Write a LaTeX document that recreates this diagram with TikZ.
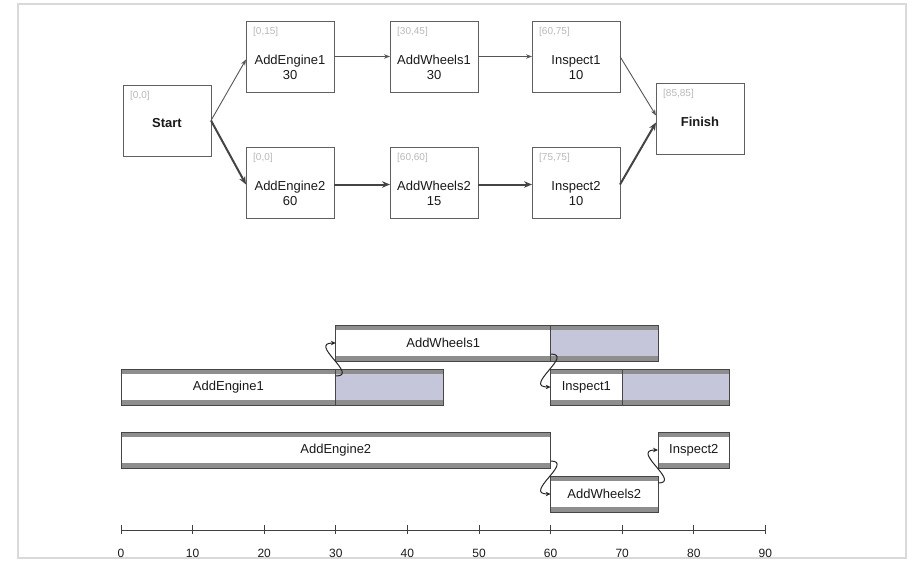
\documentclass[tikz,border=0pt]{standalone}
\usepackage{fontspec}
\setmainfont{Liberation Sans}
\usetikzlibrary{arrows.meta,calc}
\definecolor{ink}{HTML}{1A1A1A}
\definecolor{edgegray}{HTML}{555555}
\definecolor{slack}{HTML}{C6C6DB}
\definecolor{band}{HTML}{8E8E8E}
% Gantt bar: name, start time, duration, top y, text, extra style
\newcommand\ganttbar[6]{%
  \node[bar, #6, minimum width={#3*7.16pt}] (#1) at ({121+#2*7.16}, #4) {#5};}
\begin{document}
\begin{tikzpicture}[x=1pt, y=-1pt,
  task/.style={draw=gray!75!black, line width=0.9pt, fill=white, rectangle,
    minimum width=88pt, minimum height=71pt, inner sep=0pt, outer sep=0pt,
    anchor=north west},
  tasktext/.style={font=\fontsize{13}{14.5}\selectfont, text=ink, align=center, inner sep=0pt},
  endtext/.style={font=\bfseries\fontsize{13}{14.5}\selectfont, text=ink, inner sep=0pt},
  times/.style={font=\fontsize{10}{11}\selectfont, text=gray!55, anchor=west, inner sep=0pt},
  link/.style={draw=edgegray, line width=0.9pt, -{Stealth[length=6pt, width=4.5pt]}},
  crit/.style={draw=edgegray!80!black, line width=2pt, -{Stealth[length=8pt, width=6.5pt]}},
  bar/.style={rectangle, draw=gray!55!black, line width=0.8pt, fill=white,
    minimum height=36pt, inner sep=0pt, outer sep=0pt, anchor=north west,
    font=\fontsize{13}{14}\selectfont, text=ink,
    path picture={
      \fill[band] (path picture bounding box.north west) rectangle ([yshift=-5pt]path picture bounding box.north east);
      \fill[band] (path picture bounding box.south west) rectangle ([yshift=5pt]path picture bounding box.south east);}},
  slackbar/.style={fill=slack},
  dep/.style={draw=gray!30!black, line width=1pt, -{Stealth[length=5pt, width=4.5pt]}},
  axislbl/.style={font=\fontsize{12}{13}\selectfont, text=ink, inner sep=0pt}
]
\useasboundingbox (0,0) rectangle (915,571);
\draw[gray!30, line width=1.2pt] (18,4) rectangle (906,558);

% ---------- precedence network ----------
\node[task] (start) at (123,85) {};
\node[task] (ae1) at (246,21) {};
\node[task] (aw1) at (390,21) {};
\node[task] (in1) at (532,21) {};
\node[task] (fin) at (656,83) {};
\node[task] (ae2) at (246,147) {};
\node[task] (aw2) at (390,147) {};
\node[task] (in2) at (532,147) {};

\node[endtext] (startlbl) at ($(start.center)+(0,3)$) {Start};
\node[endtext] (finlbl) at ($(fin.center)+(0,3)$) {Finish};
\node[tasktext] (ae1lbl) at ($(ae1.center)+(0,11)$) {AddEngine1\\30};
\node[tasktext] (aw1lbl) at ($(aw1.center)+(0,11)$) {AddWheels1\\30};
\node[tasktext] (in1lbl) at ($(in1.center)+(0,11)$) {Inspect1\\10};
\node[tasktext] (ae2lbl) at ($(ae2.center)+(0,11)$) {AddEngine2\\60};
\node[tasktext] (aw2lbl) at ($(aw2.center)+(0,11)$) {AddWheels2\\15};
\node[tasktext] (in2lbl) at ($(in2.center)+(0,11)$) {Inspect2\\10};

\node[times] (startt) at ($(start.north west)+(7,11)$) {[0,0]};
\node[times] (ae1t) at ($(ae1.north west)+(7,11)$) {[0,15]};
\node[times] (aw1t) at ($(aw1.north west)+(7,11)$) {[30,45]};
\node[times] (in1t) at ($(in1.north west)+(7,11)$) {[60,75]};
\node[times] (fint) at ($(fin.north west)+(7,11)$) {[85,85]};
\node[times] (ae2t) at ($(ae2.north west)+(7,11)$) {[0,0]};
\node[times] (aw2t) at ($(aw2.north west)+(7,11)$) {[60,60]};
\node[times] (in2t) at ($(in2.north west)+(7,11)$) {[75,75]};

\draw[link] (start.east) -- ([yshift=-3pt]ae1.west);
\draw[link] (ae1.east) -- (aw1.west);
\draw[link] (aw1.east) -- (in1.west);
\draw[link] (in1.east) -- ([yshift=3pt]fin.west);
\draw[crit] (start.east) -- ([yshift=-2pt]ae2.west);
\draw[crit] ([yshift=-2pt]ae2.east) -- ([yshift=-2pt]aw2.west);
\draw[crit] ([yshift=-2pt]aw2.east) -- ([yshift=-2pt]in2.west);
\draw[crit] ([yshift=-2pt]in2.east) -- ([yshift=-4pt]fin.west);

% ---------- schedule ----------
\ganttbar{gaw1}{30}{30}{325}{AddWheels1}{}
\ganttbar{gaw1s}{60}{15}{325}{}{slackbar}
\ganttbar{gae1}{0}{30}{369}{AddEngine1}{}
\ganttbar{gae1s}{30}{15}{369}{}{slackbar}
\ganttbar{gin1}{60}{10}{369}{Inspect1}{}
\ganttbar{gin1s}{70}{15}{369}{}{slackbar}
\ganttbar{gae2}{0}{60}{432}{AddEngine2}{}
\ganttbar{gaw2}{60}{15}{476}{AddWheels2}{}
\ganttbar{gin2}{75}{10}{432}{Inspect2}{}

\draw[dep] ([yshift=-7pt]gae1.north east) .. controls +(24,0) and +(-28,0) .. (gaw1.west);
\draw[dep] ([yshift=7pt]gaw1.south east) .. controls +(24,0) and +(-28,0) .. (gin1.west);
\draw[dep] ([yshift=7pt]gae2.south east) .. controls +(24,0) and +(-28,0) .. (gaw2.west);
\draw[dep] ([yshift=-7pt]gaw2.north east) .. controls +(24,0) and +(-28,0) .. (gin2.west);

% ---------- time axis ----------
\coordinate (t0) at (121,530);
\coordinate (t90) at (765.4,530);
\draw[gray!50!black, line width=1pt] (t0) -- (t90);
\foreach \t in {0,10,...,90}{
  \draw[gray!50!black, line width=0.8pt] ({121+7.16*\t},525) -- ++(0,9);
  \node[axislbl] (tick\t) at ({121+7.16*\t},553) {\t};
}
\end{tikzpicture}
\end{document}
